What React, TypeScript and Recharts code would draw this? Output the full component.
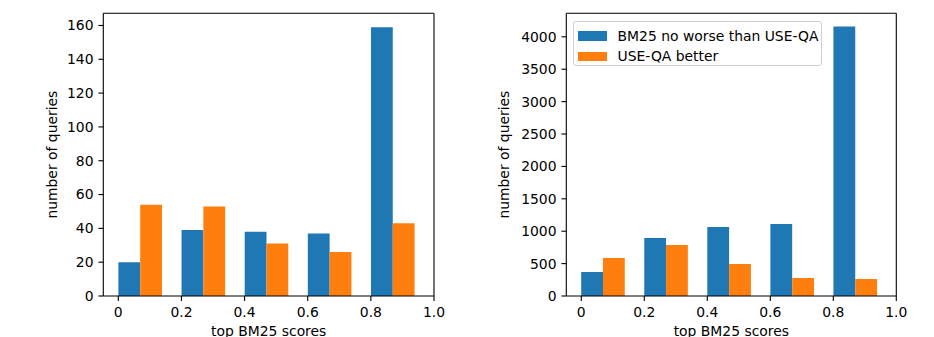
import React from 'react';
import { BarChart, Bar, XAxis, YAxis, ReferenceLine, Legend, Label } from 'recharts';

const bins = ['0.0-0.2', '0.2-0.4', '0.4-0.6', '0.6-0.8', '0.8-1.0'];
const binStarts = [0, 0.2, 0.4, 0.6, 0.8];
const leftNoWorse = [20, 39, 38, 37, 159];
const leftBetter = [54, 53, 31, 26, 43];
const rightNoWorse = [370, 895, 1065, 1110, 4160];
const rightBetter = [587, 787, 494, 278, 262];
const xTicks = [0, 0.2, 0.4, 0.6, 0.8, 1.0];
const xTickLabels = ['0', '0.2', '0.4', '0.6', '0.8', '1.0'];
const leftYTicks = [0, 20, 40, 60, 80, 100, 120, 140, 160];
const rightYTicks = [0, 500, 1000, 1500, 2000, 2500, 3000, 3500, 4000];
const seriesNames = ['BM25 no worse than USE-QA', 'USE-QA better'];
const seriesColors = ['#1f77b4', '#ff7f0e'];
const xLabel = 'top BM25 scores';
const yLabel = 'number of queries';

const FONT = '"DejaVu Sans", sans-serif';
const FS = 13.9;
const X_MIN = -0.0475;
const X_MAX = 1;

const buildData = (a: number[], b: number[]) =>
  bins.map((bin, i) => ({ bin, binStart: binStarts[i], noWorse: a[i], better: b[i] }));

const LegendBox = () => (
  <div
    style={{
      width: '100%',
      height: '100%',
      boxSizing: 'border-box',
      border: '1px solid #d0d0d0',
      borderRadius: 3,
      background: 'rgba(255,255,255,0.8)',
      fontFamily: FONT,
      fontSize: FS,
      color: '#000',
      paddingTop: 4,
    }}
  >
    {seriesNames.map((n, i) => (
      <div key={n} style={{ display: 'flex', alignItems: 'center', height: 20.5, marginLeft: 4 }}>
        <div style={{ width: 28.3, height: 9.7, background: seriesColors[i], marginRight: 11 }} />
        <span style={{ lineHeight: '20px', whiteSpace: 'nowrap' }}>{n}</span>
      </div>
    ))}
  </div>
);

type PanelProps = {
  data: any[];
  yTicks: number[];
  yMax: number;
  width: number;
  yAxisWidth: number;
  marginRight: number;
  padL: number;
  padR: number;
  yLabelDx: number;
  legend?: boolean;
};

const Panel = ({ data, yTicks, yMax, width, yAxisWidth, marginRight, padL, padR, yLabelDx, legend }: PanelProps) => (
  <BarChart
    width={width}
    height={337}
    data={data}
    margin={{ top: 13.3, right: marginRight, bottom: 0, left: 0 }}
    barGap={0}
    barSize={21.8}
  >
    <XAxis xAxisId="cat" dataKey="bin" type="category" hide height={0} padding={{ left: padL, right: padR }} />
    <XAxis
      xAxisId="num"
      dataKey="binStart"
      type="number"
      domain={[X_MIN, X_MAX]}
      allowDataOverflow
      ticks={xTicks}
      interval={0}
      tickFormatter={(v: number, i: number) => xTickLabels[i]}
      height={41}
      tickSize={4.9}
      tickMargin={6.2}
      tick={{ fill: '#000', fontSize: FS, fontFamily: FONT }}
      axisLine={{ stroke: '#000', strokeWidth: 1.1 }}
      tickLine={{ stroke: '#000', strokeWidth: 1.1 }}
    >
      <Label value={xLabel} position="insideBottom" offset={1} style={{ fill: '#000', fontSize: FS, fontFamily: FONT }} />
    </XAxis>
    <YAxis
      type="number"
      domain={[0, yMax]}
      allowDataOverflow
      ticks={yTicks}
      interval={0}
      width={yAxisWidth}
      tickSize={4.9}
      tickMargin={4.9}
      tick={{ fill: '#000', fontSize: FS, fontFamily: FONT }}
      axisLine={{ stroke: '#000', strokeWidth: 1.1 }}
      tickLine={{ stroke: '#000', strokeWidth: 1.1 }}
    >
      <Label
        value={yLabel}
        position="center"
        angle={-90}
        dx={yLabelDx}
        style={{ fill: '#000', fontSize: FS, fontFamily: FONT, textAnchor: 'middle' }}
      />
    </YAxis>
    <ReferenceLine xAxisId="num" x={X_MAX} stroke="#000" strokeWidth={1.1} />
    <ReferenceLine xAxisId="num" y={yMax} stroke="#000" strokeWidth={1.1} />
    <Bar xAxisId="cat" dataKey="noWorse" name={seriesNames[0]} fill={seriesColors[0]} isAnimationActive={false} />
    <Bar xAxisId="cat" dataKey="better" name={seriesNames[1]} fill={seriesColors[1]} isAnimationActive={false} />
    {legend && (
      <Legend
        layout="horizontal"
        verticalAlign="middle"
        align="center"
        content={() => <LegendBox />}
        wrapperStyle={{ position: 'absolute', left: 103.3, top: 20.7, width: 249, height: 45.3 }}
      />
    )}
  </BarChart>
);

export default function App() {
  return (
    <div style={{ position: 'absolute', left: 0, top: 0, width: 934, height: 337, background: '#fff' }}>
      <div style={{ position: 'absolute', left: 0, top: 0 }}>
        <Panel
          data={buildData(leftNoWorse, leftBetter)}
          yTicks={leftYTicks}
          yMax={167.2}
          width={470}
          yAxisWidth={103.3}
          marginRight={36}
          padL={5.1}
          padR={9.9}
          yLabelDx={0}
        />
      </div>
      <div style={{ position: 'absolute', left: 470, top: 0 }}>
        <Panel
          data={buildData(rightNoWorse, rightBetter)}
          yTicks={rightYTicks}
          yMax={4363}
          width={464}
          yAxisWidth={96.3}
          marginRight={37.7}
          padL={4.9}
          padR={9.8}
          yLabelDx={-13.7}
          legend
        />
      </div>
    </div>
  );
}
